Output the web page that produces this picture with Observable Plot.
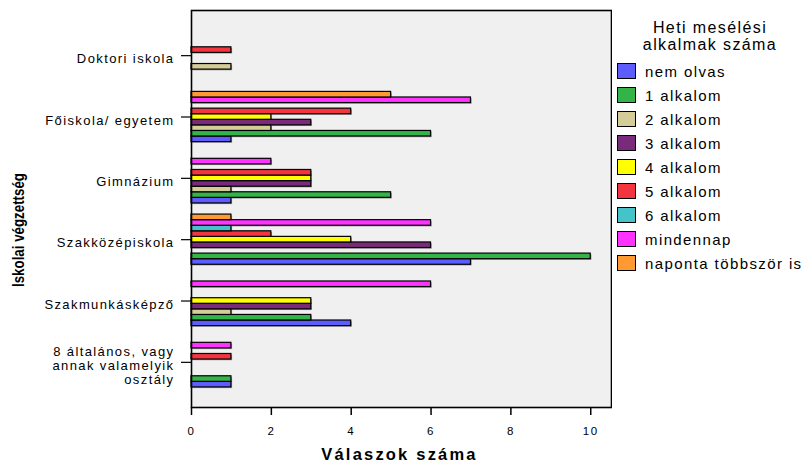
<!DOCTYPE html>
<html><head><meta charset="utf-8">
<script src="https://cdn.jsdelivr.net/npm/d3@7"></script>
<script src="https://cdn.jsdelivr.net/npm/@observablehq/plot@0.6"></script>
<style>
body{margin:0;background:#fff;font-family:"Liberation Sans",Arial,sans-serif;}
#wrap{position:relative;width:803px;height:465px;overflow:hidden;}
#chart{position:absolute;left:0;top:0;}
#legend{position:absolute;left:612px;top:0;width:191px;height:465px;color:#000;}
#legend .ttl{position:absolute;left:0;width:196px;top:19px;text-align:center;font-size:16px;line-height:17px;letter-spacing:1.4px;}
#legend .row{position:absolute;left:5px;height:24px;display:flex;align-items:center;}
#legend .sw{width:19px;height:16px;border:1.5px solid #000;box-sizing:border-box;margin-right:9px;}
#legend .lb{font-size:15px;letter-spacing:1.4px;white-space:nowrap;}
svg g[aria-label="y-axis tick label"] text{letter-spacing:1.4px;}
svg g[aria-label="x-axis tick label"] text{letter-spacing:1.5px;}
svg g[aria-label="text"] text{letter-spacing:2.2px;}
</style></head><body><div id="wrap"><div id="chart"></div><div id="legend"></div></div>
<script>
// categories (top to bottom)
const categories = ["Doktori iskola", "Főiskola/ egyetem", "Gimnázium", "Szakközépiskola", "Szakmunkásképző", "8 általános, vagy annak valamelyik osztály"];
const categoryTickLabels = ["Doktori iskola", "Főiskola/ egyetem", "Gimnázium", "Szakközépiskola", "Szakmunkásképző", "8 általános, vagy\nannak valamelyik\nosztály"];
// series (legend order)
const series = ["nem olvas", "1 alkalom", "2 alkalom", "3 alkalom", "4 alkalom", "5 alkalom", "6 alkalom", "mindennap", "naponta többször is"];
const seriesColors = ["#5c5cff", "#33b449", "#d4cd98", "#7a2a7a", "#ffff00", "#f2353e", "#46c3c8", "#ff33ff", "#ff9a33"];
// values per series, in category order
const nemOlvas   = [0, 1, 1, 7, 4, 1];
const alkalom1   = [0, 6, 5, 10, 3, 1];
const alkalom2   = [1, 2, 1, 0, 1, 0];
const alkalom3   = [0, 3, 3, 6, 3, 0];
const alkalom4   = [0, 2, 3, 4, 3, 0];
const alkalom5   = [1, 4, 3, 2, 0, 1];
const alkalom6   = [0, 0, 0, 1, 0, 0];
const mindennap  = [0, 7, 2, 6, 6, 1];
const napontaTobb = [0, 5, 0, 1, 0, 0];
const xTicks = [0, 2, 4, 6, 8, 10];

const seriesValues = [nemOlvas, alkalom1, alkalom2, alkalom3, alkalom4, alkalom5, alkalom6, mindennap, napontaTobb];

const rows = [];
series.forEach((s, si) => categories.forEach((c, ci) => {
  const v = seriesValues[si][ci];
  if (v > 0) rows.push({key: `${ci}|${si}`, series: s, value: v});
}));

const yDomain = [];
categories.forEach((c, ci) => {
  if (ci > 0) yDomain.push(`gap${ci}a`, `gap${ci}b`);
  for (let si = series.length - 1; si >= 0; si--) yDomain.push(`${ci}|${si}`);
});
const midIndex = Math.floor(series.length / 2);
const yTickKeys = categories.map((c, ci) => `${ci}|${midIndex}`);

const plot = Plot.plot({
  width: 612, height: 465,
  marginLeft: 191, marginRight: 1, marginTop: 10, marginBottom: 58,
  style: {fontFamily: '"Liberation Sans", Arial, sans-serif', fontSize: "13px", background: "transparent", color: "#000"},
  x: {domain: [0, 10.52]},
  y: {domain: yDomain, paddingInner: 0, paddingOuter: 3.6},
  color: {domain: series, range: seriesColors},
  marks: [
    Plot.frame({fill: "#f0f0f0", stroke: "none"}),
    Plot.barX(rows, {x1: 0, x2: "value", y: "key", fill: "#9a9a9a", dx: 1.2, dy: 1.2}),
    Plot.barX(rows, {x1: 0, x2: "value", y: "key", fill: "series", stroke: "#000", strokeWidth: 1.2}),
    Plot.frame({stroke: "#000", strokeWidth: 1.6}),
    Plot.axisX({ticks: xTicks, tickSize: 8, tickPadding: 11, fontSize: 11.5, label: null, stroke: "#000", strokeWidth: 1.5}),
    Plot.axisY({ticks: yTickKeys, tickFormat: k => categoryTickLabels[+k.split("|")[0]], tickSize: 10, tickPadding: 7, fontSize: 13, label: null, lineHeight: 1.1, strokeWidth: 1.2, textStroke: null}),
    Plot.text(["Válaszok száma"], {frameAnchor: "bottom", dy: 52, dx: -2, fontWeight: "bold", fontSize: 16.5})
  ]
});
document.getElementById("chart").appendChild(plot);

// shift category labels slightly below their ticks, as in the reference
d3.select(plot).selectAll('g[aria-label="y-axis tick label"] text').attr("dy", "3");

// y-axis title, centred on the full height as in the reference
d3.select(plot).append("text")
  .attr("transform", "translate(24,230) rotate(-90)")
  .attr("text-anchor", "middle")
  .attr("font-weight", "bold")
  .attr("font-size", 17)
  .attr("textLength", 114)
  .attr("lengthAdjust", "spacingAndGlyphs")
  .attr("fill", "#000")
  .text("Iskolai végzettség");

// legend
const lg = d3.select("#legend");
lg.append("div").attr("class", "ttl").html("Heti mesélési<br>alkalmak száma");
series.forEach((s, i) => {
  const r = lg.append("div").attr("class", "row").style("top", (59 + 24 * i) + "px");
  r.append("div").attr("class", "sw").style("background", seriesColors[i]);
  r.append("div").attr("class", "lb").text(s);
});
</script></body></html>
